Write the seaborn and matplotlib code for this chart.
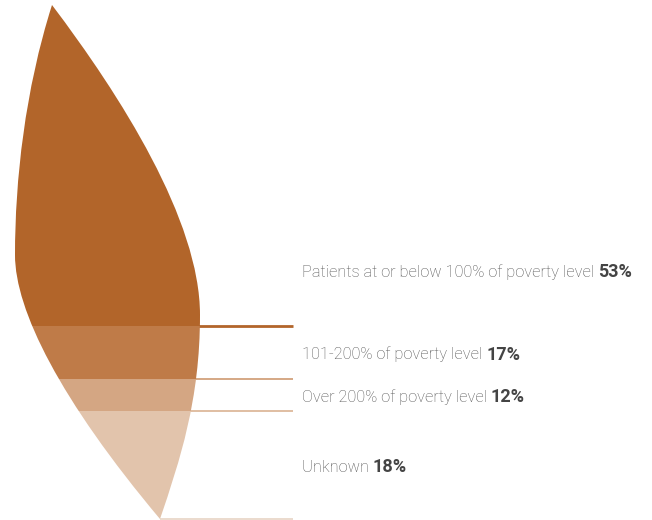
import matplotlib
matplotlib.use("Agg")
import matplotlib.pyplot as plt
import seaborn as sns
from matplotlib.path import Path
from matplotlib.patches import PathPatch

# --- data ---
categories = [
    "Patients at or below 100% of poverty level",
    "101-200% of poverty level",
    "Over 200% of poverty level",
    "Unknown",
]
shares = [53, 17, 12, 18]

# --- look ---
band_colors = ["#B2652A", "#BF7B48", "#D4A683", "#E2C4AC"]
rule_colors = ["#B2652A", "#D2A17C", "#DDB99B", "#E8D4C5"]
rule_widths = [2.0, 1.3, 1.3, 1.2]

sns.set_theme(style="white")
plt.rcParams["font.family"] = ["Roboto", "DejaVu Sans"]

fig = plt.figure(figsize=(6.52, 5.2), dpi=100)
ax = fig.add_axes([0, 0, 1, 1])
ax.set_xlim(0, 652)
ax.set_ylim(520, 0)
ax.axis("off")

# leaf outline (pixel-like layout units)
top, tip = (52, 5), (160, 519)
verts = [top,
         (120, 95), (200, 220), (200, 315),       # upper right edge
         (200, 400), (180, 460), tip,             # lower right edge
         (60, 400), (15, 310), (15, 255),         # lower left edge
         (15, 180), (25, 90), top,                # upper left edge
         top]
codes = [Path.MOVETO] + [Path.CURVE4] * 12 + [Path.CLOSEPOLY]
leaf = PathPatch(Path(verts, codes), facecolor="none", edgecolor="none")
ax.add_patch(leaf)

# where each band ends down the leaf (layout of the infographic)
band_ends = [326, 379, 411, tip[1]]
band_starts = [top[1]] + band_ends[:-1]

for i, (name, val) in enumerate(zip(categories, shares)):
    span = ax.axhspan(band_starts[i], band_ends[i], xmin=0, xmax=1,
                      color=band_colors[i], lw=0, zorder=2)
    span.set_clip_path(leaf)
    ax.hlines(band_ends[i], tip[0], 293, color=rule_colors[i],
              lw=rule_widths[i], zorder=1)

    if i == 0:
        ty = band_ends[i] - 54
    else:
        ty = (band_starts[i] + band_ends[i]) / 2 + 2
    lab = ax.text(302, ty, name + " ", fontsize=11.8, color="#555555",
                  fontweight="light", va="center", ha="left")
    ax.annotate(f"{val}%", xy=(1, 0.5), xycoords=lab, xytext=(0, 0),
                textcoords="offset points", fontsize=13, fontweight="semibold",
                color="#444444", va="center", ha="left")

fig.savefig("out.png", dpi=100)
